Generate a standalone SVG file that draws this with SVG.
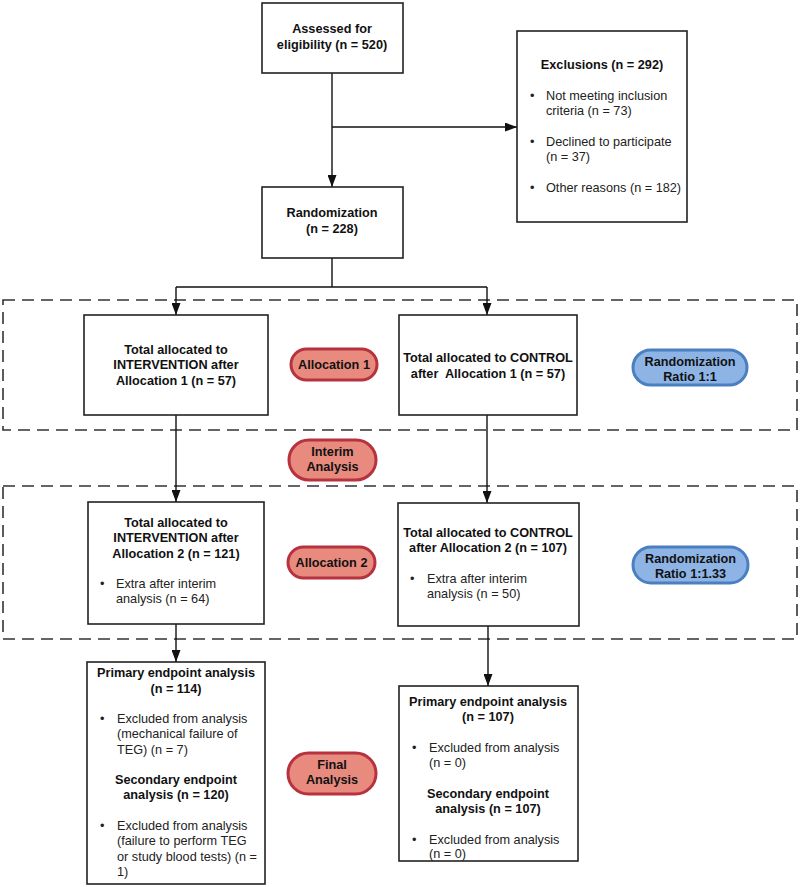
<svg xmlns="http://www.w3.org/2000/svg" width="800" height="887" viewBox="0 0 800 887">
<style>
.box{fill:#fff;stroke:#222;stroke-width:1.6}
.dash{fill:none;stroke:#333;stroke-width:1.6;stroke-dasharray:12 7}
.red{fill:#e88a7e;stroke:#b6323e;stroke-width:3}
.blue{fill:#8db4e5;stroke:#4a7fc2;stroke-width:3}
.ln{fill:none;stroke:#111;stroke-width:1.4}
text{font-family:"Liberation Sans",Arial,sans-serif;font-size:12.7px;fill:#222}
.b{font-weight:bold;text-anchor:middle;fill:#111}
.c{text-anchor:middle}
</style>
<defs>
<marker id="ah" viewBox="0 0 12 9" refX="12" refY="4.5" markerWidth="12" markerHeight="9" markerUnits="userSpaceOnUse" orient="auto">
<path d="M0,0 L12,4.5 L0,9 Z" fill="#111"/>
</marker>
</defs>
<rect x="0" y="0" width="800" height="887" fill="#fff"/>

<g id="regions">
<rect class="dash" x="3" y="300" width="794" height="130"/>
<rect class="dash" x="3" y="486" width="794" height="153"/>
</g>

<g id="connectors">
<path class="ln" d="M332,73 V187" marker-end="url(#ah)"/>
<path class="ln" d="M332,127 H517" marker-end="url(#ah)"/>
<path class="ln" d="M332,258 V287 M176,287 H487"/>
<path class="ln" d="M176,287 V315" marker-end="url(#ah)"/>
<path class="ln" d="M487,287 V315" marker-end="url(#ah)"/>
<path class="ln" d="M176,415 V502" marker-end="url(#ah)"/>
<path class="ln" d="M487,415 V503" marker-end="url(#ah)"/>
<path class="ln" d="M176,624 V662" marker-end="url(#ah)"/>
<path class="ln" d="M488,626 V686" marker-end="url(#ah)"/>
</g>

<g id="assessed">
<rect class="box" x="262" y="3" width="141" height="70"/>
<text class="b" x="332" y="33">Assessed for</text>
<text class="b" x="332" y="49">eligibility (n = 520)</text>
</g>

<g id="exclusions">
<rect class="box" x="517" y="31" width="170" height="191"/>
<text class="b" x="602" y="69">Exclusions (n = 292)</text>
<text x="530" y="100">•</text>
<text x="546" y="100">Not meeting inclusion</text>
<text x="546" y="115">criteria (n = 73)</text>
<text x="530" y="146">•</text>
<text x="546" y="146">Declined to participate</text>
<text x="546" y="161">(n = 37)</text>
<text x="530" y="192">•</text>
<text x="546" y="192">Other reasons (n = 182)</text>
</g>

<g id="randomization">
<rect class="box" x="262" y="187" width="141" height="71"/>
<text class="b" x="332" y="217">Randomization</text>
<text class="b" x="332" y="233">(n = 228)</text>
</g>

<g id="int1">
<rect class="box" x="84" y="315" width="184" height="100"/>
<text class="b" x="176" y="354">Total allocated to</text>
<text class="b" x="176" y="369">INTERVENTION after</text>
<text class="b" x="176" y="385">Allocation 1 (n = 57)</text>
</g>

<g id="alloc1">
<rect class="red" x="291" y="349" width="86" height="31" rx="15.5"/>
<text class="b" x="334" y="369">Allocation 1</text>
</g>

<g id="ctl1">
<rect class="box" x="399" y="315" width="178" height="100"/>
<text class="b" x="488" y="362">Total allocated to CONTROL</text>
<text class="b" x="488" y="378" xml:space="preserve">after  Allocation 1 (n = 57)</text>
</g>

<g id="ratio1">
<rect class="blue" x="633" y="350" width="114" height="35" rx="17.5"/>
<text class="b" x="690" y="366">Randomization</text>
<text class="b" x="690" y="381">Ratio 1:1</text>
</g>

<g id="interim">
<rect class="red" x="289" y="440" width="87" height="40" rx="20"/>
<text class="b" x="332.5" y="456">Interim</text>
<text class="b" x="332.5" y="471">Analysis</text>
</g>

<g id="int2">
<rect class="box" x="88" y="502" width="176" height="122"/>
<text class="b" x="176" y="527">Total allocated to</text>
<text class="b" x="176" y="542">INTERVENTION after</text>
<text class="b" x="176" y="558">Allocation 2 (n = 121)</text>
<text x="100" y="588">•</text>
<text x="116" y="588">Extra after interim</text>
<text x="116" y="603">analysis (n = 64)</text>
</g>

<g id="alloc2">
<rect class="red" x="288" y="547" width="87" height="31" rx="15.5"/>
<text class="b" x="331.5" y="567">Allocation 2</text>
</g>

<g id="ctl2">
<rect class="box" x="398" y="503" width="181" height="123"/>
<text class="b" x="488" y="537">Total allocated to CONTROL</text>
<text class="b" x="488" y="552">after Allocation 2 (n = 107)</text>
<text x="410" y="583">•</text>
<text x="427" y="583">Extra after interim</text>
<text x="427" y="598">analysis (n = 50)</text>
</g>

<g id="ratio2">
<rect class="blue" x="633" y="547" width="115" height="36" rx="18"/>
<text class="b" x="690.5" y="563">Randomization</text>
<text class="b" x="690.5" y="578">Ratio 1:1.33</text>
</g>

<g id="final-int">
<rect class="box" x="87" y="662" width="178" height="222"/>
<text class="b" x="176" y="677">Primary endpoint analysis</text>
<text class="b" x="176" y="693">(n = 114)</text>
<text x="100" y="723">•</text>
<text x="117" y="723">Excluded from analysis</text>
<text x="117" y="738">(mechanical failure of</text>
<text x="117" y="754">TEG) (n = 7)</text>
<text class="b" x="176" y="784">Secondary endpoint</text>
<text class="b" x="176" y="799">analysis (n = 120)</text>
<text x="100" y="830">•</text>
<text x="117" y="830">Excluded from analysis</text>
<text x="117" y="845">(failure to perform TEG</text>
<text x="117" y="861">or study blood tests) (n =</text>
<text x="117" y="876">1)</text>
</g>

<g id="final">
<rect class="red" x="288" y="753" width="88" height="41" rx="20.5"/>
<text class="b" x="332" y="769">Final</text>
<text class="b" x="332" y="784">Analysis</text>
</g>

<g id="final-ctl">
<rect class="box" x="399" y="686" width="179" height="175"/>
<text class="b" x="488" y="706">Primary endpoint analysis</text>
<text class="b" x="488" y="721">(n = 107)</text>
<text x="412" y="752">•</text>
<text x="429" y="752">Excluded from analysis</text>
<text x="429" y="767">(n = 0)</text>
<text class="b" x="488" y="798">Secondary endpoint</text>
<text class="b" x="488" y="813">analysis (n = 107)</text>
<text x="412" y="844">•</text>
<text x="429" y="844">Excluded from analysis</text>
<text x="429" y="858">(n = 0)</text>
</g>
</svg>
